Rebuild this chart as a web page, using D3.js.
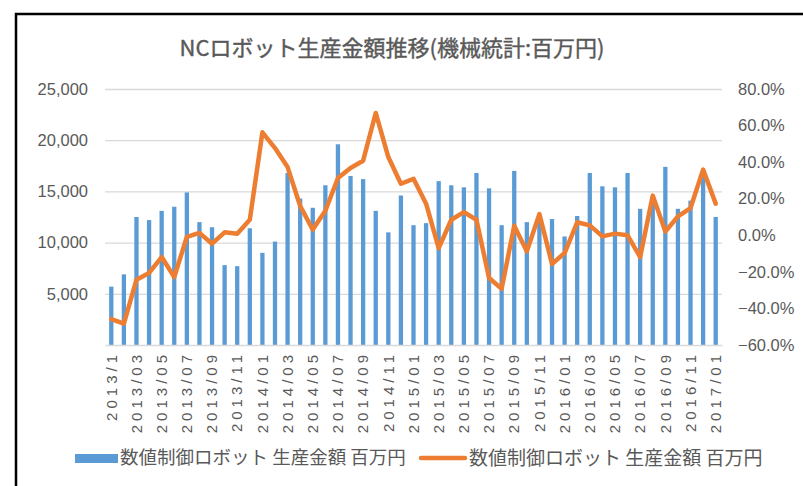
<!DOCTYPE html>
<html>
<head>
<meta charset="utf-8">
<script src="https://cdn.jsdelivr.net/npm/d3@7"></script>
<style>
  html, body { margin: 0; padding: 0; background: #fff; }
  svg { display: block; font-family: "Noto Sans CJK JP", "Noto Sans", sans-serif; }
</style>
</head>
<body>
<div id="chart"></div>
<script>
// Monthly categories (2013/1 .. 2017/01)
const months = [
  '2013/1', '2013/02', '2013/03', '2013/04', '2013/05', '2013/06', '2013/07', '2013/08', '2013/09', '2013/10', '2013/11', '2013/12',
  '2014/01', '2014/02', '2014/03', '2014/04', '2014/05', '2014/06', '2014/07', '2014/08', '2014/09', '2014/10', '2014/11', '2014/12',
  '2015/01', '2015/02', '2015/03', '2015/04', '2015/05', '2015/06', '2015/07', '2015/08', '2015/09', '2015/10', '2015/11', '2015/12',
  '2016/01', '2016/02', '2016/03', '2016/04', '2016/05', '2016/06', '2016/07', '2016/08', '2016/09', '2016/10', '2016/11', '2016/12',
  '2017/01',
];

// Production value (million yen) - bars, left axis
const production = [
  5700, 6900, 12500, 12200, 13100, 13500, 14900, 12000, 11500, 7800, 7700, 11400,
  9000, 10100, 16800, 14300, 13400, 15600, 19600, 16500, 16200, 13100, 11000, 14600,
  11700, 11900, 16000, 15600, 15400, 16800, 15300, 11700, 17000, 12000, 12300, 12300,
  10600, 12600, 16800, 15500, 15400, 16800, 13300, 14300, 17400, 13300, 14100, 16500,
  12500,
];

// Year-on-year change (%) - line, right axis
const yoyChange = [
  -45.8, -48.3, -24.3, -20.6, -11.9, -22.8, -0.9, 1.3, -4.6, 1.6, 0.9, 8.5,
  56.3, 47.7, 37.3, 16.0, 3.1, 13.4, 31.3, 36.8, 40.8, 66.9, 42.8, 28.2,
  30.9, 17.3, -7.0, 8.5, 12.7, 8.5, -23.4, -29.2, 5.2, -8.8, 11.6, -15.7,
  -9.7, 7.1, 5.4, -0.6, 0.9, 0.0, -11.9, 21.7, 2.1, 10.3, 14.9, 35.9,
  17.3,
];

// Tick values
const leftTicks = [5000, 10000, 15000, 20000, 25000];
const rightTicks = [-60, -40, -20, 0, 20, 40, 60, 80];
const xTickLabels = months.filter((d, i) => i % 2 === 0);

const chartTitle = 'NCロボット生産金額推移(機械統計:百万円)';
const seriesName = '数値制御ロボット 生産金額 百万円';

const width = 803;
const height = 486;
const margin = { top: 89, right: 81, bottom: 141, left: 105 };
const textColor = '#595959';
const barColor = '#5b9bd5';
const lineColor = '#ed7d31';

const svg = d3.select('#chart').append('svg')
  .attr('width', width)
  .attr('height', height);

// Outer frame (only top/left edges are inside the picture)
svg.append('rect')
  .attr('x', 16)
  .attr('y', 14)
  .attr('width', 900)
  .attr('height', 600)
  .attr('fill', 'none')
  .attr('stroke', '#000')
  .attr('stroke-width', 2.5);

const x = d3.scaleBand()
  .domain(months)
  .range([margin.left, width - margin.right])
  .paddingInner(0.66)
  .paddingOuter(0.33);

const yLeft = d3.scaleLinear()
  .domain([0, 25000])
  .range([height - margin.bottom, margin.top]);

const yRight = d3.scaleLinear()
  .domain([-60, 80])
  .range([height - margin.bottom, margin.top]);

// Grid lines
svg.append('g')
  .attr('class', 'grid')
  .attr('transform', `translate(${margin.left},0)`)
  .call(d3.axisLeft(yLeft)
    .tickValues(leftTicks)
    .tickSize(-(width - margin.left - margin.right))
    .tickFormat(''))
  .call((g) => g.select('.domain').remove())
  .call((g) => g.selectAll('line').attr('stroke', '#d9d9d9').attr('stroke-width', 1.3));

// Bars
svg.append('g')
  .selectAll('rect')
  .data(production)
  .join('rect')
  .attr('x', (d, i) => x(months[i]))
  .attr('y', (d) => yLeft(d))
  .attr('width', x.bandwidth())
  .attr('height', (d) => yLeft(0) - yLeft(d))
  .attr('fill', barColor);

// Baseline / x axis
svg.append('g')
  .attr('transform', `translate(0,${height - margin.bottom})`)
  .call(d3.axisBottom(x)
    .tickValues(xTickLabels)
    .tickSize(0)
    .tickPadding(0))
  .call((g) => g.select('.domain').attr('stroke', '#d9d9d9').attr('stroke-width', 1.3))
  .call((g) => g.selectAll('text')
    .attr('transform', 'rotate(-90)')
    .attr('x', -6)
    .attr('y', 0)
    .attr('dy', '0.35em')
    .attr('text-anchor', 'end')
    .attr('fill', textColor)
    .style('font-size', '15px')
    .style('letter-spacing', '4px'));

// Left axis labels
svg.append('g')
  .attr('transform', `translate(${margin.left},0)`)
  .call(d3.axisLeft(yLeft)
    .tickValues(leftTicks)
    .tickSize(0)
    .tickPadding(17)
    .tickFormat(d3.format(',')))
  .call((g) => g.select('.domain').remove())
  .call((g) => g.selectAll('text')
    .attr('fill', textColor)
    .style('font-size', '16.5px'));

// Right axis labels
svg.append('g')
  .attr('transform', `translate(${width - margin.right},0)`)
  .call(d3.axisRight(yRight)
    .tickValues(rightTicks)
    .tickSize(0)
    .tickPadding(16)
    .tickFormat((d) => `${d3.format('.1f')(d)}%`))
  .call((g) => g.select('.domain').remove())
  .call((g) => g.selectAll('text')
    .attr('fill', textColor)
    .style('font-size', '16.5px'));

// Line
const line = d3.line()
  .x((d, i) => x(months[i]) + x.bandwidth() / 2)
  .y((d) => yRight(d));

svg.append('path')
  .datum(yoyChange)
  .attr('fill', 'none')
  .attr('stroke', lineColor)
  .attr('stroke-width', 4.5)
  .attr('stroke-linejoin', 'round')
  .attr('stroke-linecap', 'round')
  .attr('d', line);

// Title
svg.append('text')
  .attr('x', 392)
  .attr('y', 56)
  .attr('text-anchor', 'middle')
  .attr('fill', textColor)
  .attr('stroke', textColor)
  .attr('stroke-width', 0.4)
  .style('font-size', '22px')
  .text(chartTitle);

// Legend
const legend = svg.append('g')
  .attr('transform', 'translate(0,458)');

legend.append('rect')
  .attr('x', 75)
  .attr('y', -4)
  .attr('width', 43)
  .attr('height', 9)
  .attr('fill', barColor);

legend.append('text')
  .attr('x', 120)
  .attr('y', 0)
  .attr('dy', '0.35em')
  .attr('fill', textColor)
  .style('font-size', '18.5px')
  .text(seriesName);

legend.append('line')
  .attr('x1', 421)
  .attr('x2', 465)
  .attr('y1', 0)
  .attr('y2', 0)
  .attr('stroke', lineColor)
  .attr('stroke-width', 4.5)
  .attr('stroke-linecap', 'round');

legend.append('text')
  .attr('x', 469)
  .attr('y', 0)
  .attr('dy', '0.35em')
  .attr('fill', textColor)
  .style('font-size', '19px')
  .text(seriesName);
</script>
</body>
</html>
